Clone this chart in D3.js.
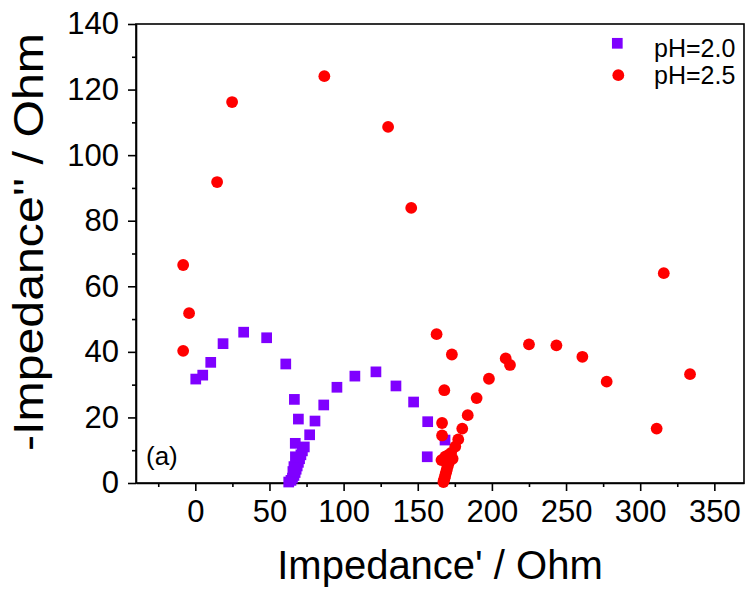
<!DOCTYPE html>
<html>
<head>
<meta charset="utf-8">
<script src="https://cdn.jsdelivr.net/npm/d3@7"></script>
<style>
  body { margin: 0; background: #fff; }
  svg { font-family: Arial, "Liberation Sans", sans-serif; }
</style>
</head>
<body>
<script>
// pH=2.0 (purple squares): [Z', -Z'']
const ph20 = [
  [0.3, 31.7], [5, 32.9], [10.4, 36.8], [18.7, 42.5], [32.6, 46], [48.1, 44.3],
  [61, 36.3], [66.8, 25.5], [69.5, 19.5], [67.4, 12.1], [77.1, 14.7], [80.7, 18.9],
  [86.6, 23.8], [95.5, 29.2], [107.6, 32.6], [121.8, 33.9], [135.3, 29.6],
  [147.2, 24.7], [156.7, 18.7], [168.4, 13.1], [156.4, 8.0],
  [63, 0.3], [64.5, 0.8], [65.5, 1.5], [66.5, 2.3], [67.3, 3.2], [68, 4.2],
  [68.7, 5.2], [69.5, 6.3], [70.3, 7.4], [71.2, 8.6], [72.2, 9.8], [73.5, 11],
  [66.5, 5], [67.5, 8], [65.8, 3.5]
];

// pH=2.5 (red circles)
const ph25 = [
  [-8.2, 66.5], [-4.2, 51.8], [-8.2, 40.3], [14.7, 91.8], [24.8, 116.2],
  [87, 124.1], [130, 108.6], [145.6, 83.9], [162.7, 45.4], [173, 39.2],
  [167.9, 28.3], [166.4, 18.3], [166.4, 14.5], [198, 31.8], [189.7, 25.9],
  [183.7, 20.7], [180, 16.6], [177.3, 13.3], [175.3, 11.1], [173.5, 7.4],
  [209.3, 38], [212.2, 36], [225, 42.3], [243.5, 42], [261, 38.5],
  [277.4, 30.9], [311.1, 16.6], [333.6, 33.2], [315.9, 64.0],
  [167.3, 0.3], [167.6, 0.8], [168, 1.4], [168.4, 2], [168.8, 2.8],
  [169.3, 3.6], [169.8, 4.5], [170.4, 5.4], [171, 6.3], [171.8, 7.3],
  [166, 7], [168.5, 8], [170.5, 8.5], [172.5, 9.2]
];

const xTicks = [0, 50, 100, 150, 200, 250, 300, 350];
const xMinor = [-25, 25, 75, 125, 175, 225, 275, 325];
const yTicks = [0, 20, 40, 60, 80, 100, 120, 140];
const yMinor = [10, 30, 50, 70, 90, 110, 130];

const width = 745, height = 591;
const margin = { left: 136, right: 1, top: 24, bottom: 108 };

const svg = d3.select("body").append("svg")
  .attr("width", width).attr("height", height);

const x = d3.scaleLinear().domain([-40, 370]).range([margin.left, width - margin.right]);
const y = d3.scaleLinear().domain([0, 140]).range([height - margin.bottom, margin.top]);

// plot frame
svg.append("rect")
  .attr("x", x(-40)).attr("y", y(140))
  .attr("width", x(370) - x(-40)).attr("height", y(0) - y(140))
  .attr("fill", "none").attr("stroke", "#000").attr("stroke-width", 1.6);

// x axis
const gx = svg.append("g").attr("transform", `translate(0,${y(0)})`);
gx.call(d3.axisBottom(x).tickValues(xTicks).tickSize(8).tickPadding(9).tickSizeOuter(0));
gx.append("g").call(d3.axisBottom(x).tickValues(xMinor).tickSize(4).tickFormat("").tickSizeOuter(0))
  .select(".domain").remove();

// y axis
const gy = svg.append("g").attr("transform", `translate(${x(-40)},0)`);
gy.call(d3.axisLeft(y).tickValues(yTicks).tickSize(8).tickPadding(9).tickSizeOuter(0));
gy.append("g").call(d3.axisLeft(y).tickValues(yMinor).tickSize(4).tickFormat("").tickSizeOuter(0))
  .select(".domain").remove();

svg.selectAll(".domain").attr("stroke-width", 1.6);
svg.selectAll(".tick line").attr("stroke-width", 1.6);
svg.selectAll(".tick text").attr("font-size", 31).attr("fill", "#000")
  .attr("font-family", "Arial, 'Liberation Sans', sans-serif");

// markers
const sq = 10.7;
svg.append("g").selectAll("rect")
  .data(ph20).join("rect")
  .attr("x", d => x(d[0]) - sq / 2).attr("y", d => y(d[1]) - sq / 2)
  .attr("width", sq).attr("height", sq)
  .attr("fill", "#7f00ff");

svg.append("g").selectAll("circle")
  .data(ph25).join("circle")
  .attr("cx", d => x(d[0])).attr("cy", d => y(d[1]))
  .attr("r", 5.9)
  .attr("fill", "#ff0000");

// axis titles
svg.append("text")
  .attr("x", 440).attr("y", 579)
  .attr("text-anchor", "middle").attr("font-size", 40)
  .text("Impedance' / Ohm");

svg.append("text")
  .attr("transform", `translate(43,${242}) rotate(-90)`)
  .attr("text-anchor", "middle").attr("font-size", 42)
  .attr("textLength", 418).attr("lengthAdjust", "spacingAndGlyphs")
  .text("-Impedance'' / Ohm");

// panel label
svg.append("text").attr("x", 146).attr("y", 465)
  .attr("font-size", 26).text("(a)");

// legend
const legend = svg.append("g");
legend.append("rect").attr("x", 617.3 - sq / 2).attr("y", 43.3 - sq / 2)
  .attr("width", sq).attr("height", sq).attr("fill", "#7f00ff");
legend.append("text").attr("x", 654).attr("y", 56.5).attr("font-size", 25).text("pH=2.0");
legend.append("circle").attr("cx", 618.3).attr("cy", 75.2).attr("r", 5.9).attr("fill", "#ff0000");
legend.append("text").attr("x", 654).attr("y", 83.5).attr("font-size", 25).text("pH=2.5");
</script>
</body>
</html>
